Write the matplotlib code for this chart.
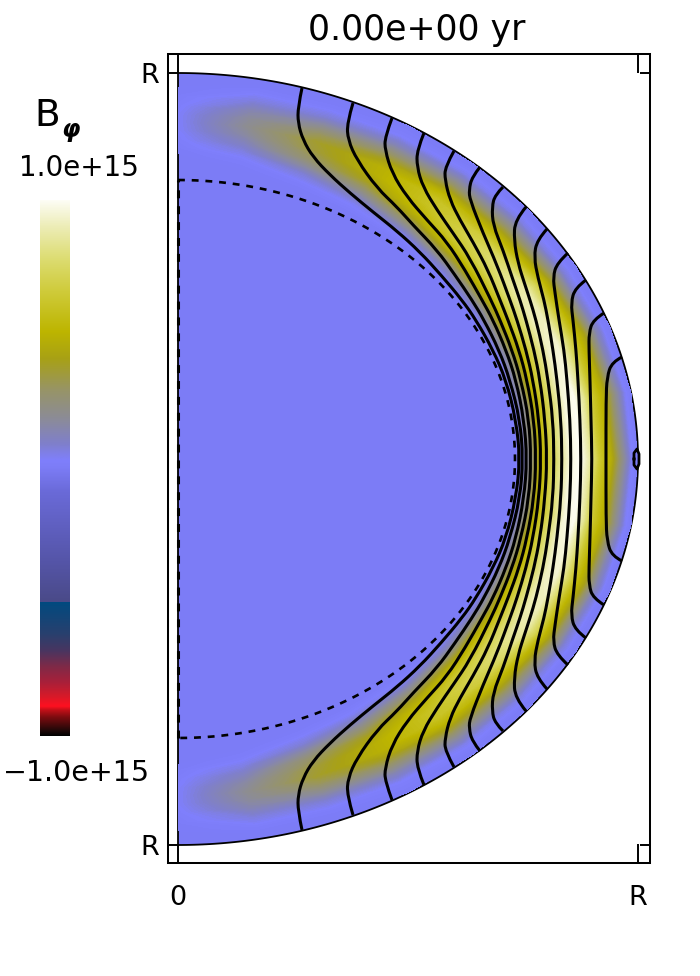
import numpy as np
import matplotlib
matplotlib.use('Agg')
import matplotlib.pyplot as plt
from matplotlib.colors import LinearSegmentedColormap, Normalize
from matplotlib.path import Path
from matplotlib.patches import PathPatch

TITLE = '0.00e+00 yr'
FIELD_MAX = '1.0e+15'
FIELD_MIN = '\u22121.0e+15'

# the star is drawn in arbitrary grid units: R is 460 along x and 386 along y
RX = 460
RY = 386
CORE_RX = 337
CORE_RY = 279

# colour table of the bar, value (-1..1) and colour
CMAP_V = [-1.0, -0.98, -0.93, -0.905, -0.89, -0.855, -0.8, -0.74, -0.685, -0.62, -0.5, -0.5, -0.35, -0.09, 0.0,
          0.03, 0.09, 0.19, 0.29, 0.41, 0.51, 0.66, 0.78, 0.91, 1.0]
CMAP_C = ['#000000', '#200808', '#800c10', '#c01018', '#ff1020', '#d81a28', '#a8203a', '#7d2a48', '#4a3560',
          '#28406e', '#004a80', '#4a4a88', '#5555a8', '#6a6ad8', '#7c7cf6',
          '#7f7ffc', '#7f7fcc', '#8c8c95', '#979468', '#a8a115', '#bdb500', '#cfcb3a', '#dcdc70', '#eeeebb', '#fdfdf5']

# B_phi: rows are colatitude, columns are radius (fraction of R)
FIELD_THETA = [0, 10, 20, 30, 40, 50, 60, 70, 80, 90]
FIELD_R = [0.725, 0.745, 0.765, 0.79, 0.81, 0.83, 0.855, 0.875, 0.895, 0.915, 0.94, 0.965, 0.985, 1.0]
FIELD = [
    [0, 0, 0, 0, 0.01, 0.02, 0.03, 0.03, 0.03, 0.02, 0.01, 0, 0, 0],
    [0, 0, 0, 0.02, 0.06, 0.11, 0.17, 0.20, 0.18, 0.14, 0.07, 0.02, 0, 0],
    [0, 0, 0.02, 0.08, 0.18, 0.28, 0.35, 0.37, 0.30, 0.20, 0.08, 0.02, 0, 0],
    [0, 0.01, 0.04, 0.15, 0.28, 0.40, 0.48, 0.48, 0.40, 0.28, 0.13, 0.03, 0.01, 0],
    [0, 0.01, 0.07, 0.26, 0.43, 0.54, 0.60, 0.60, 0.52, 0.38, 0.19, 0.05, 0.01, 0],
    [0, 0.02, 0.13, 0.38, 0.55, 0.67, 0.73, 0.68, 0.56, 0.42, 0.22, 0.06, 0.01, 0],
    [0, 0.03, 0.18, 0.45, 0.62, 0.77, 0.88, 0.88, 0.73, 0.53, 0.30, 0.08, 0.01, 0],
    [0, 0.03, 0.20, 0.46, 0.64, 0.78, 0.92, 0.94, 0.80, 0.60, 0.40, 0.14, 0.02, 0],
    [0, 0.03, 0.20, 0.47, 0.65, 0.80, 0.96, 0.99, 0.84, 0.62, 0.46, 0.20, 0.04, 0],
    [0, 0.03, 0.20, 0.48, 0.66, 0.82, 0.97, 1.00, 0.86, 0.64, 0.47, 0.22, 0.04, 0],
]

# poloidal field lines, northern half from the surface to the equator
LINE1_X = [124, 120, 120, 125, 135, 152, 172, 195, 219, 242, 263, 284, 298, 315, 328, 338, 342]
LINE1_Y = [371, 352, 336, 319, 302, 284, 266, 247, 228, 207, 184, 159, 139, 109, 79, 39, 0]
LINE2_X = [175, 169, 170, 179, 199, 219, 235, 259, 277, 294, 306, 321, 332, 342, 345]
LINE2_Y = [356, 336, 319, 299, 271, 252, 234, 209, 184, 159, 139, 109, 79, 39, 0]
LINE3_X = [214, 207, 207, 214, 229, 249, 269, 287, 304, 315, 328, 338, 346, 349]
LINE3_Y = [341, 322, 309, 286, 262, 239, 217, 189, 159, 139, 109, 79, 39, 0]
LINE4_X = [246, 239, 239, 245, 259, 275, 292, 313, 322, 334, 343, 351, 353]
LINE4_Y = [326, 309, 292, 272, 249, 226, 201, 159, 139, 109, 79, 39, 0]
LINE5_X = [276, 267, 267, 272, 282, 295, 310, 322, 330, 341, 349, 356, 358]
LINE5_Y = [308, 292, 279, 259, 239, 217, 189, 159, 139, 109, 79, 39, 0]
LINE6_X = [302, 294, 291, 292, 305, 319, 332, 339, 348, 355, 361, 363]
LINE6_Y = [292, 282, 269, 259, 226, 194, 159, 139, 109, 79, 39, 0]
LINE7_X = [325, 317, 314, 315, 325, 335, 342, 348, 356, 362, 367, 369]
LINE7_Y = [272, 264, 252, 234, 209, 179, 159, 139, 109, 79, 39, 0]
LINE8_X = [348, 337, 336, 340, 347, 352, 358, 365, 370, 375, 376]
LINE8_Y = [252, 239, 219, 196, 174, 159, 139, 109, 79, 39, 0]
LINE9_X = [369, 359, 356, 360, 366, 370, 375, 379, 383, 384]
LINE9_Y = [230, 219, 202, 181, 159, 139, 109, 79, 39, 0]
LINE10_X = [390, 379, 375, 377, 381, 386, 389, 392, 393]
LINE10_Y = [206, 196, 182, 166, 139, 109, 79, 39, 0]
LINE11_X = [408, 397, 393, 395, 398, 400, 402, 403]
LINE11_Y = [179, 171, 156, 139, 109, 79, 39, 0]
LINE12_X = [426, 415, 411, 411, 412, 413, 414]
LINE12_Y = [146, 139, 126, 109, 79, 39, 0]
LINE13_X = [444, 434, 429, 428, 428]
LINE13_Y = [102, 97, 82, 59, 0]
LINES = [(LINE1_X, LINE1_Y), (LINE2_X, LINE2_Y), (LINE3_X, LINE3_Y), (LINE4_X, LINE4_Y),
         (LINE5_X, LINE5_Y), (LINE6_X, LINE6_Y), (LINE7_X, LINE7_Y), (LINE8_X, LINE8_Y),
         (LINE9_X, LINE9_Y), (LINE10_X, LINE10_Y), (LINE11_X, LINE11_Y), (LINE12_X, LINE12_Y),
         (LINE13_X, LINE13_Y)]

# the little closed loop at the equator
LOOP_X = [456, 456, 459, 461, 461, 459, 456, 456]
LOOP_Y = [0, 6, 10, 5, -5, -10, -6, 0]


def add_curve(ax, x, y):
    # quadratic bezier path with the read points as control points
    pts = np.column_stack((x, y))
    mids = (pts[1:-2] + pts[2:-1]) / 2
    verts = [pts[0]]
    codes = [Path.MOVETO]
    for p, m in zip(pts[1:-2], mids):
        verts += [p, m]
        codes += [Path.CURVE3, Path.CURVE3]
    verts += [pts[-2], pts[-1]]
    codes += [Path.CURVE3, Path.CURVE3]
    ax.add_patch(PathPatch(Path(verts, codes), fill=False, edgecolor='black', lw=2.2, zorder=4))


W, H = 700, 976
fig = plt.figure(figsize=(W / 100, H / 100), dpi=100)
plt.rcParams['font.family'] = 'DejaVu Sans'

cmap = LinearSegmentedColormap.from_list(
    'bphi', [((v + 1) / 2, c) for v, c in zip(CMAP_V, CMAP_C)], N=1024)
norm = Normalize(-1, 1)

ax = fig.add_axes([168 / W, 1 - 863 / H, 482 / W, 809 / H])
ax.set_xlim(-10, 472)
ax.set_ylim(-404, 405)

# star and core outlines
theta = np.radians(np.linspace(0, 180, 361))
ax.fill(RX * np.sin(theta), RY * np.cos(theta), facecolor=cmap(norm(0)), edgecolor='black',
        linewidth=1.3, zorder=1)

# field, southern half is the mirror of the northern one
th = np.radians(np.r_[FIELD_THETA, 180 - np.array(FIELD_THETA[-2::-1])])
rr = np.array(FIELD_R)
field = np.array(FIELD)
field = np.vstack((field, field[-2::-1]))
T, S = np.meshgrid(th, rr, indexing='ij')
ax.contourf(RX * S * np.sin(T), RY * S * np.cos(T), field, levels=np.linspace(0.001, 1, 120),
            cmap=cmap, norm=norm, zorder=2)

ax.plot(CORE_RX * np.sin(theta), CORE_RY * np.cos(theta), color='black', lw=1.9,
        dashes=(2.6, 2.6), zorder=3)
ax.plot([0, 0], [-CORE_RY, CORE_RY], color='black', lw=2.2, dashes=(2.6, 2.6), zorder=3)

for x, y in LINES:
    x = np.array(x)
    y = np.array(y)
    add_curve(ax, np.r_[x, x[-2::-1]], np.r_[y, -y[-2::-1]])
ax.plot(LOOP_X, LOOP_Y, color='black', lw=2.0, zorder=4)

ax.set_xticks([0, RX])
ax.set_xticklabels(['0', 'R'])
ax.set_yticks([-RY, RY])
ax.set_yticklabels(['R', 'R'])
ax.tick_params(axis='x', direction='in', top=True, bottom=True, length=13.7, width=1.4,
               pad=16, labelsize=19.5)
ax.tick_params(axis='y', direction='in', left=True, right=True, length=7.2, width=1.4,
               pad=6.5, labelsize=19.5)
for sp in ax.spines.values():
    sp.set_linewidth(1.45)
ax.set_title(TITLE, fontsize=25, x=0.517, pad=10)

# colour bar
cax = fig.add_axes([40 / W, 1 - 736 / H, 30 / W, 536 / H])
cax.imshow(np.linspace(1, -1, 512)[:, None], cmap=cmap, norm=norm, aspect='auto',
           extent=[0, 1, -1, 1])
cax.axis('off')

fig.text(47 / W, 1 - 126 / H, 'B', fontsize=27, ha='center', va='baseline')
fig.text(70 / W, 1 - 137 / H, '\u03c6', fontsize=17, ha='center', va='baseline',
         style='italic', weight='bold')
fig.text(79 / W, 1 - 176 / H, FIELD_MAX, fontsize=20, ha='center', va='baseline')
fig.text(76.5 / W, 1 - 781 / H, FIELD_MIN, fontsize=20.5, ha='center', va='baseline')

fig.savefig('out.png', dpi=100)
